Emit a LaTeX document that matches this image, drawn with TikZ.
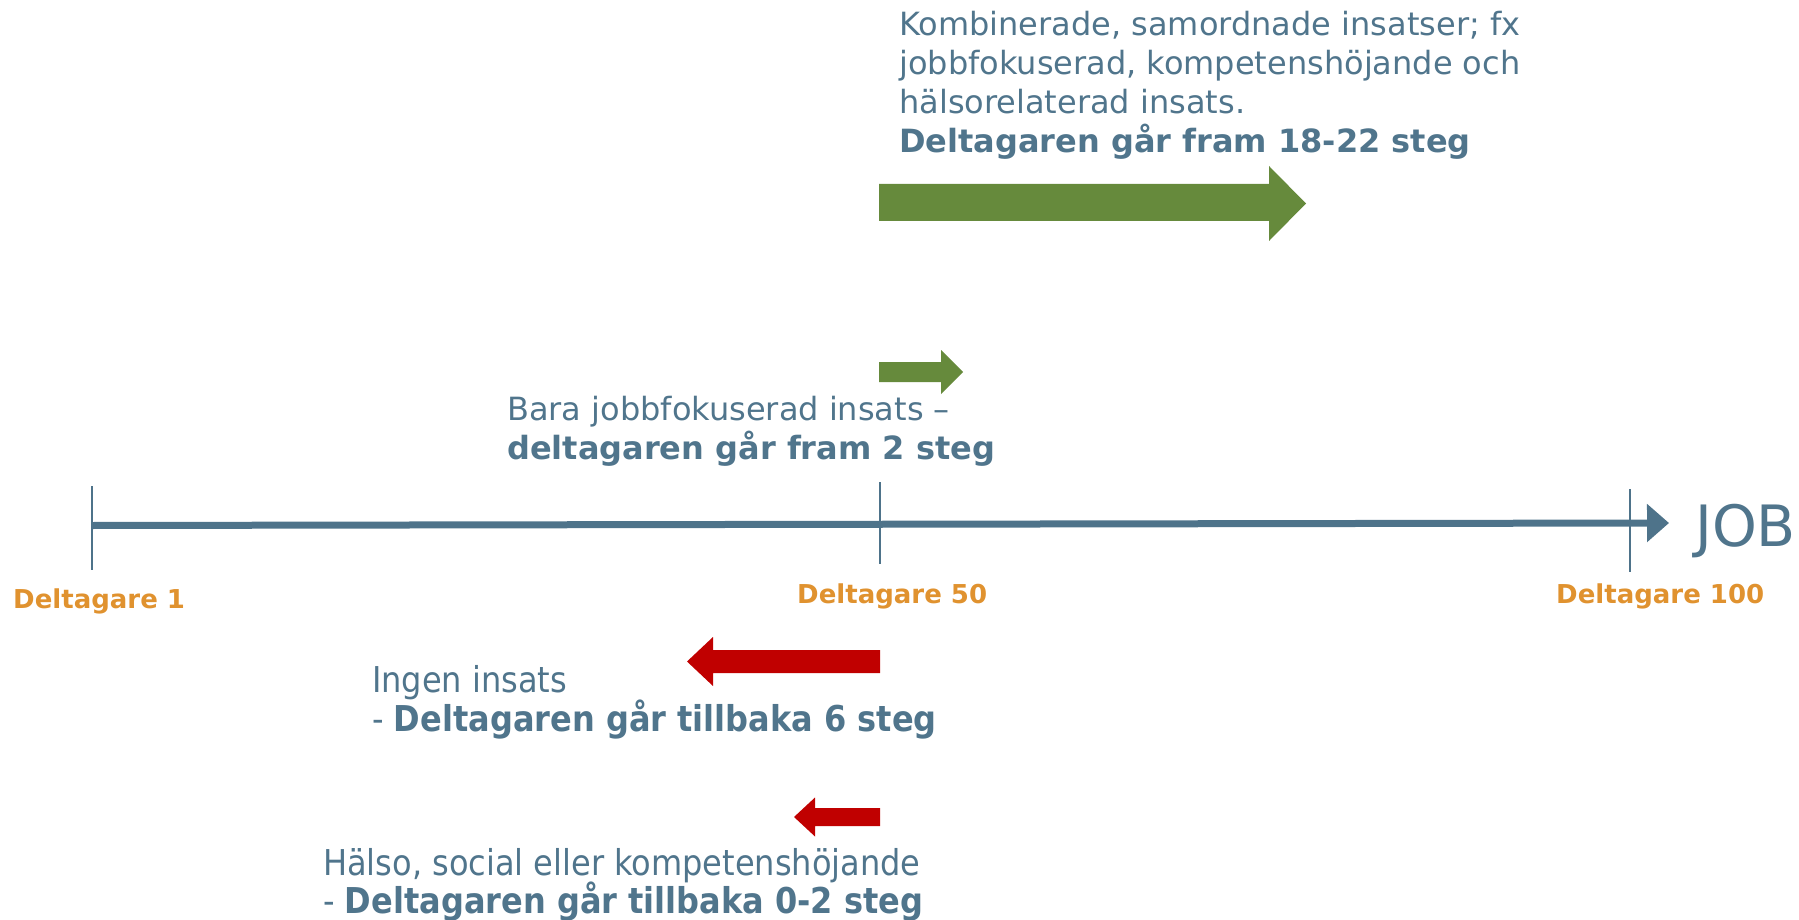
\documentclass[tikz,border=0pt]{standalone}
\usepackage{fontspec}
\setmainfont{DejaVu Sans}
\newfontfamily\tahoma{DejaVu Sans Condensed}
\usetikzlibrary{arrows.meta}
\definecolor{txtblue}{RGB}{80,117,140}
\definecolor{axisblue}{RGB}{78,115,138}
\definecolor{orangelab}{RGB}{224,146,47}
\definecolor{arrgreen}{RGB}{102,138,60}
\definecolor{arrred}{RGB}{192,0,0}
\tikzset{
  txt/.style={anchor=base west,inner sep=0pt,text=txtblue,font=\fontsize{32}{39}\selectfont},
  txtb/.style={txt,font=\fontsize{32}{39}\selectfont\bfseries},
  ttxt/.style={anchor=base west,inner sep=0pt,text=txtblue,font=\tahoma\fontsize{35.6}{42}\selectfont},
  lab/.style={anchor=base west,inner sep=0pt,text=orangelab,font=\fontsize{26}{30}\selectfont\bfseries},
  tickline/.style={draw=axisblue,line width=1.4pt},
}
\begin{document}
\begin{tikzpicture}[x=1pt,y=-1pt]
\useasboundingbox (0,0) rectangle (1799,920);
% top text
\node[txt] (t1) at (899,36) {Kombinerade, samordnade insatser; fx};
\node[txt] (t2) at (899,75) {jobbfokuserad, kompetensh\"ojande och};
\node[txt] (t3) at (899,114) {h\"alsorelaterad insats.};
\node[txtb] (t4) at (899,153) {Deltagaren g\aa r fram 18-22 steg};
% big green arrow
\fill[arrgreen] (879,184) -- (1269,184) -- (1269,166) -- (1306,203.5) -- (1269,241) -- (1269,221) -- (879,221) -- cycle;
% small green arrow
\fill[arrgreen] (879,362) -- (941,362) -- (941,350) -- (963,372) -- (941,394) -- (941,382) -- (879,382) -- cycle;
% Bara text
\node[txt] (b1) at (507,420) {Bara jobbfokuserad insats --};
\node[txtb] (b2) at (507,459) {deltagaren g\aa r fram 2 steg};
% axis
\coordinate (a0) at (92,525.5);
\coordinate (a1) at (1669,523);
\draw[draw=axisblue,line width=7pt,-{Triangle[length=22pt,width=37pt]}] (a0) -- (a1);
\draw[tickline] (92,486) -- (92,570);
\draw[tickline] (880,482) -- (880,564);
\draw[tickline] (1630,489) -- (1630,572);
\node[anchor=base west,inner sep=0pt,text=txtblue,font=\fontsize{57}{60}\selectfont] (job) at (1695,546) {JOB};
\node[lab] (d1) at (13,608) {Deltagare 1};
\node[lab] (d50) at (797,603) {Deltagare 50};
\node[lab] (d100) at (1556,603) {Deltagare 100};
% red arrow 1
\fill[arrred] (880,650) -- (713,650) -- (713,637) -- (687,661.5) -- (713,686) -- (713,673) -- (880,673) -- cycle;
\node[ttxt] (i1) at (372,692) {Ingen insats};
\node[ttxt] (i2) at (372,731) {- \textbf{Deltagaren g\aa r tillbaka 6 steg}};
% red arrow 2
\fill[arrred] (880,808) -- (815,808) -- (815,797.5) -- (794,817) -- (815,836.5) -- (815,826) -- (880,826) -- cycle;
\node[ttxt] (h1) at (323,875) {H\"also, social eller kompetensh\"ojande};
\node[ttxt] (h2) at (323,913) {- \textbf{Deltagaren g\aa r tillbaka 0-2 steg}};
\end{tikzpicture}
\end{document}
